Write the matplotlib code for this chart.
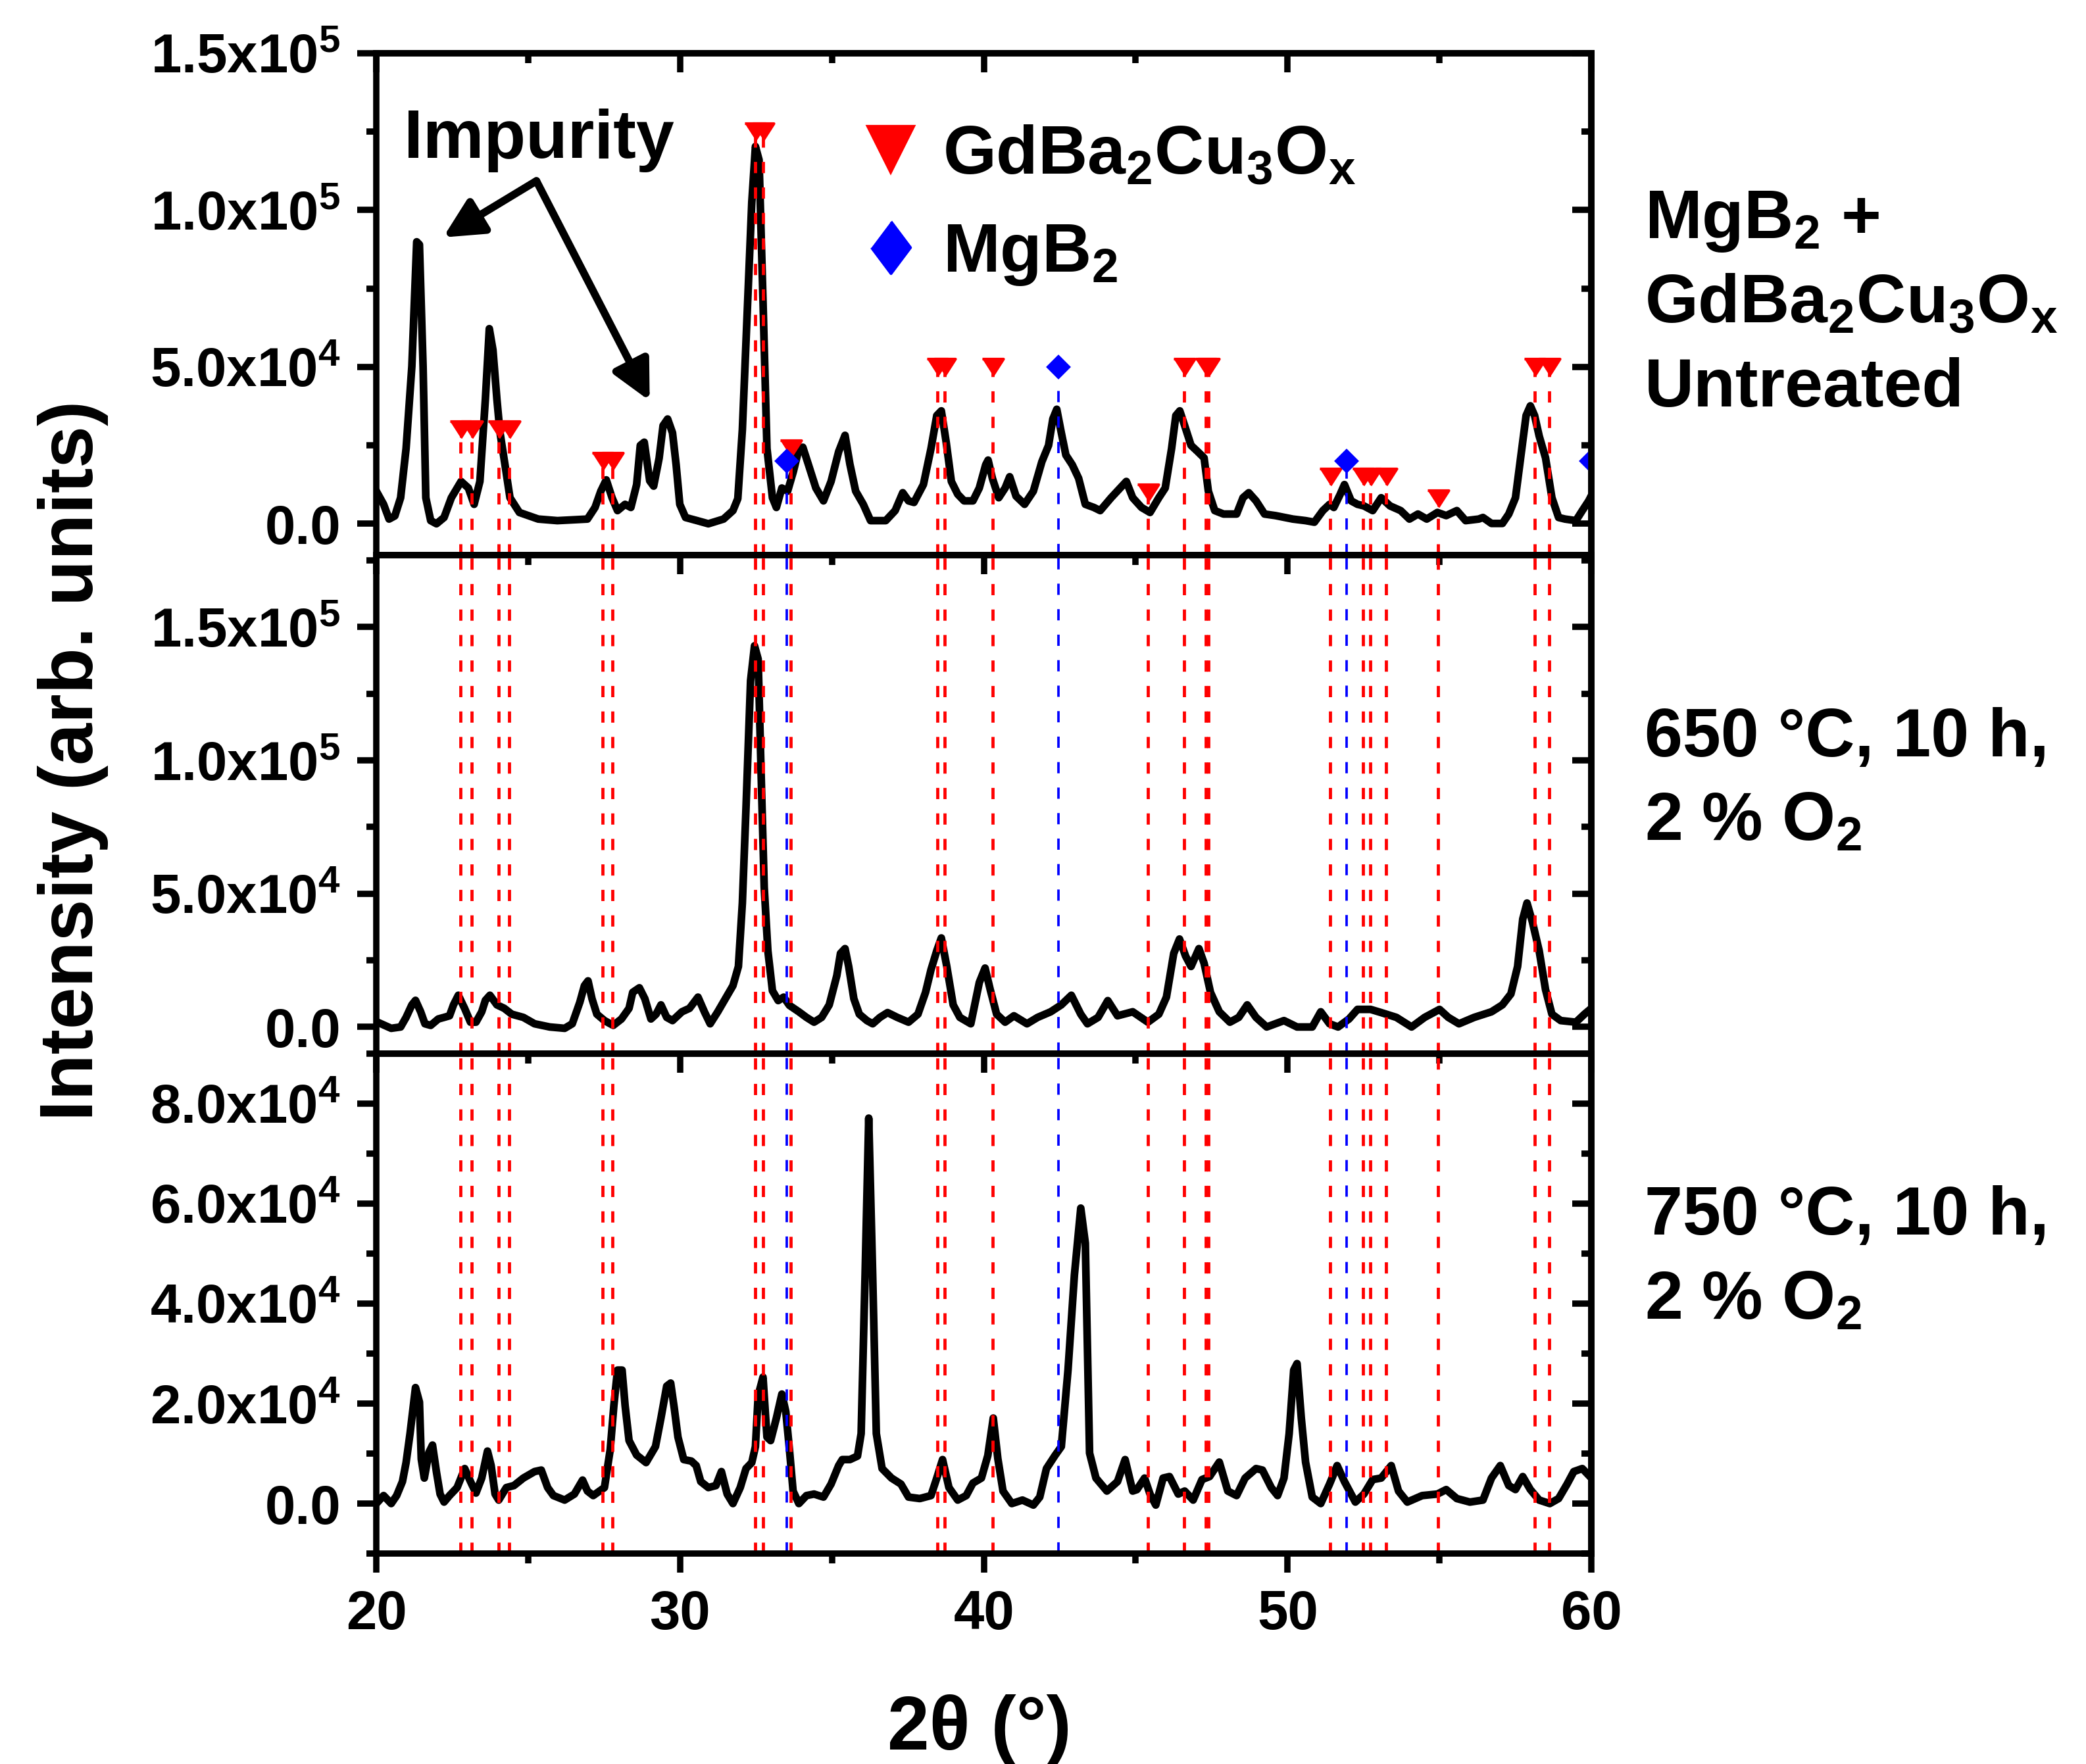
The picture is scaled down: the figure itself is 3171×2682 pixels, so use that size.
import numpy as np
import matplotlib.pyplot as plt
from matplotlib.lines import Line2D
from matplotlib.ticker import MultipleLocator

plt.rcParams.update({
    'font.family': ['Liberation Sans', 'DejaVu Sans'],
    'font.weight': 'bold',
    'mathtext.fontset': 'custom',
    'mathtext.rm': 'Liberation Sans:bold',
    'mathtext.it': 'Liberation Sans:bold',
    'mathtext.bf': 'Liberation Sans:bold',
    'mathtext.default': 'rm',
    'lines.scale_dashes': False,
})

## XRD patterns (2theta in deg, counts)
top_x = [20.0, 20.24, 20.42, 20.61, 20.8, 20.98, 21.17, 21.33, 21.42, 21.54, 21.63, 21.79, 21.98,
         22.23, 22.47, 22.79, 23.03, 23.22, 23.41, 23.59, 23.72, 23.84, 23.97, 24.07, 24.22, 24.4,
         24.71, 25.33, 25.96, 26.95, 27.2, 27.39, 27.57, 27.76, 27.94, 28.19, 28.38, 28.57, 28.69,
         28.82, 29.0, 29.13, 29.31, 29.44, 29.59, 29.75, 29.87, 29.99, 30.18, 30.56, 30.93, 31.43,
         31.74, 31.9, 32.05, 32.2, 32.36, 32.48, 32.6, 32.73, 32.86, 33.04, 33.17, 33.35, 33.54,
         33.73, 33.89, 34.04, 34.22, 34.47, 34.72, 34.97, 35.22, 35.43, 35.59, 35.78, 36.03, 36.27,
         36.77, 37.08, 37.33, 37.52, 37.7, 38.01, 38.26, 38.45, 38.6, 38.76, 38.93, 39.14, 39.35,
         39.64, 39.85, 40.06, 40.14, 40.28, 40.49, 40.7, 40.85, 41.06, 41.34, 41.63, 41.91, 42.13,
         42.27, 42.4, 42.55, 42.7, 42.91, 43.12, 43.34, 43.62, 43.83, 44.19, 44.69, 44.9, 45.19,
         45.47, 45.76, 45.97, 46.18, 46.32, 46.45, 46.61, 46.82, 47.04, 47.25, 47.39, 47.6, 47.89,
         48.32, 48.53, 48.72, 48.96, 49.24, 49.6, 50.17, 50.59, 50.88, 51.16, 51.38, 51.52, 51.73,
         51.87, 52.09, 52.3, 52.51, 52.8, 53.08, 53.37, 53.72, 54.01, 54.29, 54.58, 54.93, 55.22,
         55.57, 55.86, 56.29, 56.43, 56.71, 57.07, 57.28, 57.5, 57.71, 57.85, 57.99, 58.13, 58.28,
         58.49, 58.7, 58.92, 59.13, 59.49, 59.7, 59.91, 60.0]
top_y = [10400, 6200, 1500, 2500, 8300, 24000, 50200, 89900, 89000, 50000, 8300, 1000, 0,
         2000, 8300, 13500, 11400, 6200, 13500, 39700, 62200, 55400, 39700, 29200, 19800, 8300,
         3600, 1500, 1000, 1500, 5200, 10400, 14000, 8300, 4200, 6200, 5200, 12500, 25000,
         26000, 13700, 12000, 20900, 31300, 33400, 29000, 18800, 6200, 2000, 1000, 0, 1500,
         4200, 8000, 30000, 65000, 102500, 120300, 116000, 71000, 24000, 8300, 5200, 11400, 10400,
         16700, 23000, 24400, 19000, 11400, 7300, 13500, 23000, 28200, 19000, 10400, 6200, 1000,
         1000, 4200, 9900, 7300, 6800, 12500, 24000, 34500, 36000, 26000, 13500, 9400, 7300,
         7300, 11400, 18800, 20300, 14500, 8300, 11400, 15000, 8800, 6200, 10400, 19800, 25000,
         33400, 36500, 29000, 21900, 18800, 14500, 6200, 5200, 4200, 8300, 13500, 8300, 5200,
         3600, 8300, 11400, 24000, 34500, 36000, 31300, 25000, 23000, 21000, 10400, 4200, 3100,
         3100, 8300, 9900, 7300, 3100, 2600, 1500, 1000, 500, 4200, 6200, 5200, 9400,
         12500, 7300, 6200, 5700, 4200, 8300, 5700, 4200, 1500, 3100, 1500, 3600, 2600,
         4200, 1000, 1500, 2000, 100, 100, 3100, 8300, 24000, 34500, 37600, 34500, 28000,
         21000, 8300, 2000, 1500, 1000, 4200, 7300, 9000]

mid_x = [20.0, 20.49, 20.8, 20.98, 21.17, 21.29, 21.46, 21.6, 21.79, 22.04, 22.23, 22.41, 22.54,
         22.7, 22.91, 23.1, 23.28, 23.47, 23.59, 23.74, 23.97, 24.21, 24.46, 24.84, 25.21, 25.71,
         26.2, 26.45, 26.7, 26.85, 26.97, 27.1, 27.26, 27.51, 27.8, 28.07, 28.32, 28.44, 28.66,
         28.84, 29.04, 29.21, 29.37, 29.56, 29.75, 30.06, 30.31, 30.59, 30.8, 30.99, 31.24, 31.49,
         31.74, 31.92, 32.05, 32.17, 32.32, 32.45, 32.57, 32.67, 32.77, 32.89, 33.04, 33.23, 33.41,
         33.6, 33.91, 34.16, 34.41, 34.66, 34.91, 35.16, 35.28, 35.43, 35.55, 35.72, 35.9, 36.15,
         36.34, 36.58, 36.83, 37.15, 37.52, 37.83, 38.08, 38.26, 38.45, 38.6, 38.78, 38.99, 39.21,
         39.57, 39.85, 40.04, 40.21, 40.42, 40.7, 40.99, 41.42, 41.77, 42.2, 42.55, 42.88, 43.19,
         43.41, 43.76, 44.08, 44.4, 44.9, 45.4, 45.76, 46.01, 46.25, 46.44, 46.64, 46.82, 47.08,
         47.25, 47.46, 47.75, 48.1, 48.39, 48.67, 48.96, 49.31, 49.88, 50.31, 50.81, 51.09, 51.38,
         51.66, 52.02, 52.3, 52.73, 53.08, 53.58, 54.08, 54.51, 55.0, 55.29, 55.64, 56.14, 56.71,
         57.07, 57.35, 57.57, 57.74, 57.88, 58.06, 58.28, 58.49, 58.7, 58.99, 59.49, 59.77, 60.0]
mid_y = [2000, -500, 0, 3600, 8300, 10000, 5700, 1200, 600, 3000, 3600, 4200, 8300,
         11900, 6900, 1800, 1800, 5700, 10000, 11900, 8300, 7000, 4800, 3600, 1200, 0,
         -500, 1200, 9300, 15500, 17300, 10600, 4800, 2400, 600, 3000, 7000, 13000, 14700,
         10600, 3000, 4800, 8300, 3600, 2400, 5700, 7000, 11200, 5700, 1200, 5700, 10600,
         15500, 22700, 46500, 82200, 129900, 143000, 138000, 94100, 52400, 28600, 13600, 9900, 11200,
         8100, 5700, 3600, 1800, 3600, 8300, 19300, 27600, 29400, 22700, 10600, 4800, 2400,
         1200, 3600, 5400, 3600, 1800, 4800, 13000, 21500, 28600, 33400, 22700, 8300, 3600,
         1200, 16700, 22100, 14000, 4800, 1800, 4200, 1200, 3600, 5700, 8300, 11900, 4800,
         1200, 3600, 9900, 4200, 5700, 1800, 4800, 11200, 27600, 33000, 26600, 22700, 29400,
         23900, 13000, 5700, 1800, 3600, 8300, 3600, 0, 2400, 0, 0, 5700, 1200,
         0, 3000, 6600, 6600, 5400, 3600, 0, 3600, 6600, 3600, 1200, 3600, 5700,
         8300, 12400, 22700, 40500, 46500, 39300, 28600, 14000, 4800, 2400, 1800, 4800, 7000]

bot_x = [20.0, 20.24, 20.49, 20.67, 20.86, 20.98, 21.11, 21.29, 21.42, 21.48, 21.58, 21.73, 21.85,
         21.98, 22.1, 22.23, 22.41, 22.66, 22.91, 23.1, 23.28, 23.47, 23.66, 23.78, 23.91, 24.03,
         24.28, 24.53, 24.84, 25.21, 25.43, 25.64, 25.83, 26.2, 26.52, 26.79, 26.95, 27.14, 27.51,
         27.7, 27.82, 27.94, 28.09, 28.19, 28.32, 28.57, 28.88, 29.19, 29.37, 29.56, 29.69, 29.81,
         29.93, 30.12, 30.37, 30.53, 30.68, 30.93, 31.18, 31.36, 31.55, 31.74, 31.98, 32.17, 32.36,
         32.48, 32.57, 32.73, 32.86, 32.98, 33.17, 33.35, 33.48, 33.6, 33.72, 33.91, 34.16, 34.41,
         34.72, 34.97, 35.22, 35.34, 35.59, 35.84, 35.96, 36.09, 36.21, 36.34, 36.46, 36.65, 36.96,
         37.27, 37.52, 37.89, 38.26, 38.45, 38.64, 38.85, 39.14, 39.42, 39.64, 39.92, 40.13, 40.31,
         40.46, 40.63, 40.92, 41.27, 41.63, 41.84, 42.06, 42.34, 42.55, 42.77, 42.98, 43.19, 43.34,
         43.48, 43.69, 44.05, 44.4, 44.65, 44.9, 45.04, 45.29, 45.47, 45.66, 45.9, 46.11, 46.4,
         46.61, 46.89, 47.18, 47.43, 47.75, 48.03, 48.32, 48.6, 48.96, 49.17, 49.46, 49.67, 49.88,
         50.05, 50.2, 50.31, 50.45, 50.59, 50.81, 51.09, 51.38, 51.63, 51.87, 52.23, 52.51, 52.8,
         53.08, 53.41, 53.65, 53.94, 54.43, 54.93, 55.22, 55.57, 56.0, 56.43, 56.71, 57.0, 57.28,
         57.5, 57.74, 57.99, 58.28, 58.63, 58.92, 59.2, 59.42, 59.7, 60.0]
bot_y = [0, 1600, 0, 1600, 4400, 8200, 14000, 23200, 20300, 8900, 5100, 10200, 11700,
         6300, 1900, 300, 1600, 3200, 7000, 4400, 2100, 5100, 10500, 7600, 1900, 700,
         3200, 3600, 5100, 6400, 6700, 3200, 1600, 700, 1900, 4700, 2500, 1600, 3200,
         10800, 19600, 26700, 26700, 19600, 12600, 9700, 8200, 11400, 17100, 23500, 24100, 19000,
         13300, 8800, 8500, 7600, 4400, 3200, 3600, 6400, 1900, 0, 3200, 7000, 8200,
         11400, 21600, 25300, 13300, 12600, 17100, 21900, 18400, 10800, 2500, 0, 1600, 1900,
         1300, 3900, 7600, 8800, 8800, 9500, 14000, 45700, 77100, 45700, 14000, 7000, 5100,
         3900, 1300, 1000, 1600, 5100, 8800, 3200, 700, 1600, 4100, 5100, 9600, 17100,
         9000, 2500, 0, 700, -300, 1300, 7000, 9600, 11400, 26700, 45700, 59100, 52100,
         10100, 5100, 2500, 4400, 8800, 2500, 2800, 5100, 1900, -300, 5100, 5400, 1900,
         2500, 700, 4800, 5400, 8300, 2500, 1600, 5100, 7000, 6700, 3200, 1600, 5100,
         14000, 26700, 28000, 17100, 8300, 1300, 0, 3900, 7600, 4400, 300, 1900, 4800,
         5100, 7600, 2500, 300, 1600, 1900, 2800, 1000, 300, 700, 5100, 7600, 3600,
         2800, 5400, 2800, 700, 0, 1000, 3900, 6400, 7000, 5100]

## reference peak positions and marker heights in the top panel
gbco_pos = [22.77, 23.13, 24.03, 24.38, 27.45, 27.78, 32.47, 32.74, 33.65, 38.48, 38.70,
            40.28, 45.41, 46.60, 47.31, 47.40, 51.40, 52.49, 52.71, 53.23, 54.95, 58.14, 58.62]
gbco_mark = [3e4, 3e4, 3e4, 3e4, 2e4, 2e4, 1.25e5, 1.25e5, 2.4e4, 5e4, 5e4,
             5e4, 1e4, 5e4, 5e4, 5e4, 1.5e4, 1.5e4, 1.5e4, 1.5e4, 8e3, 5e4, 5e4]
mgb2_pos = [33.51, 42.46, 51.94, 60.0]
mgb2_mark = [2e4, 5e4, 2e4, 2e4]

top_ticks = [0, 5e4, 1e5, 1.5e5]
top_labels = ['0.0', '5.0x10$^4$', '1.0x10$^5$', '1.5x10$^5$']
mid_ticks = [0, 5e4, 1e5, 1.5e5]
mid_labels = ['0.0', '5.0x10$^4$', '1.0x10$^5$', '1.5x10$^5$']
bot_ticks = [0, 2e4, 4e4, 6e4, 8e4]
bot_labels = ['0.0', '2.0x10$^4$', '4.0x10$^4$', '6.0x10$^4$', '8.0x10$^4$']

top_text = ['MgB$_2$ +', 'GdBa$_2$Cu$_3$O$_x$', 'Untreated']
mid_text = ['650 °C, 10 h,', '2 % O$_2$']
bot_text = ['750 °C, 10 h,', '2 % O$_2$']

tri = [(-1, 0.78), (1, 0.78), (0, -0.78)]
leg_diamond = [(0, 1), (0.75, 0), (0, -1), (-0.75, 0)]
dash = (0, (4.1, 5.2))

fig = plt.figure(figsize=(10.57, 8.94), dpi=300)
ax1 = fig.add_axes([0.1804, 0.6853, 0.5825, 0.2845])
ax2 = fig.add_axes([0.1804, 0.4027, 0.5825, 0.2826])
ax3 = fig.add_axes([0.1804, 0.1193, 0.5825, 0.2834])

panels = [
    (ax1, top_x, top_y, (-1e4, 1.5e5), top_ticks, top_labels, 2.5e4),
    (ax2, mid_x, mid_y, (-1e4, 1.77e5), mid_ticks, mid_labels, 2.5e4),
    (ax3, bot_x, bot_y, (-1e4, 9e4), bot_ticks, bot_labels, 1e4),
]

for ax, x, y, ylim, ticks, labels, minor in panels:
    ax.plot(x, y, color='black', lw=2.8, zorder=3, solid_joinstyle='round')
    ax.set_xlim(20, 60)
    ax.set_ylim(*ylim)
    ax.set_yticks(ticks, labels)
    ax.yaxis.set_minor_locator(MultipleLocator(minor))
    ax.xaxis.set_major_locator(MultipleLocator(10))
    ax.xaxis.set_minor_locator(MultipleLocator(5))
    for s in ax.spines.values():
        s.set_linewidth(2.3)
        s.set_zorder(6)
    ax.tick_params(which='both', direction='out', width=2.3, labelsize=20, pad=6,
                   top=False, right=False)
    ax.tick_params(which='major', length=7)
    ax.tick_params(which='minor', length=3.5)
    # mirrored axes with inward ticks
    sx = ax.secondary_xaxis('top')
    sx.xaxis.set_major_locator(MultipleLocator(10))
    sx.xaxis.set_minor_locator(MultipleLocator(5))
    sx.tick_params(which='both', direction='in', width=2.3, labeltop=False)
    sx.tick_params(which='major', length=7)
    sx.tick_params(which='minor', length=3.5)
    sx.spines['top'].set_linewidth(2.3)
    sy = ax.secondary_yaxis('right')
    sy.set_yticks(ticks)
    sy.yaxis.set_minor_locator(MultipleLocator(minor))
    sy.tick_params(which='both', direction='in', width=2.3, labelright=False)
    sy.tick_params(which='major', length=7)
    sy.tick_params(which='minor', length=3.5)
    sy.spines['right'].set_linewidth(2.3)
    if ax is not ax3:
        ax.tick_params(labelbottom=False)

# reference lines: start under the markers in the top panel, run through the others
ax1.vlines(gbco_pos, -1e4, gbco_mark, colors='red', lw=1.15, linestyles=dash, zorder=4)
ax1.vlines(mgb2_pos, -1e4, mgb2_mark, colors='blue', lw=0.9, linestyles=dash, zorder=4)
for ax in (ax2, ax3):
    lo, hi = ax.get_ylim()
    ax.vlines(gbco_pos, lo, hi, colors='red', lw=1.15, linestyles=dash, zorder=4)
    ax.vlines(mgb2_pos, lo, hi, colors='blue', lw=0.9, linestyles=dash, zorder=4)

ax1.plot(gbco_pos, gbco_mark, ls='none', marker=tri, ms=7.7, color='red', mec='red', zorder=5)
ax1.plot(mgb2_pos, mgb2_mark, ls='none', marker='D', ms=5.6, color='blue', mec='blue', zorder=5)

# impurity annotation
ax1.text(20.91, 116600, 'Impurity', fontsize=25, fontweight='bold', va='baseline')
for tip in [(22.2, 91300), (29.0, 39200)]:
    ax1.annotate('', xy=tip, xytext=(25.27, 109300),
                 arrowprops=dict(arrowstyle='-|>,head_length=12,head_width=6',
                                 mutation_scale=1, lw=2.8, color='black',
                                 shrinkA=0, shrinkB=0))

handles = [Line2D([], [], ls='none', marker='v', ms=17, color='red'),
           Line2D([], [], ls='none', marker=leg_diamond, ms=19, color='blue')]
ax1.legend(handles, ['GdBa$_2$Cu$_3$O$_x$', 'MgB$_2$'], loc='upper left',
           bbox_to_anchor=(0.395, 0.859), frameon=False, fontsize=25,
           handlelength=1.0, handletextpad=0.26, labelspacing=0.5,
           borderpad=0, borderaxespad=0)

# sample labels at the right
for lines, y0 in [(top_text, 0.8650), (mid_text, 0.5714), (bot_text, 0.3001)]:
    for i, s in enumerate(lines):
        fig.text(0.7884, y0 - i * 0.04773, s, fontsize=25, fontweight='bold', va='baseline')

fig.text(0.035, 0.569, 'Intensity (arb. units)', rotation=90, fontsize=27.5,
         fontweight='bold', ha='center', va='center')
fig.text(0.4696, 0.0194, '2θ (°)', fontsize=27.5, fontweight='bold', ha='center', va='center')

fig.savefig('out.png', dpi=300)
